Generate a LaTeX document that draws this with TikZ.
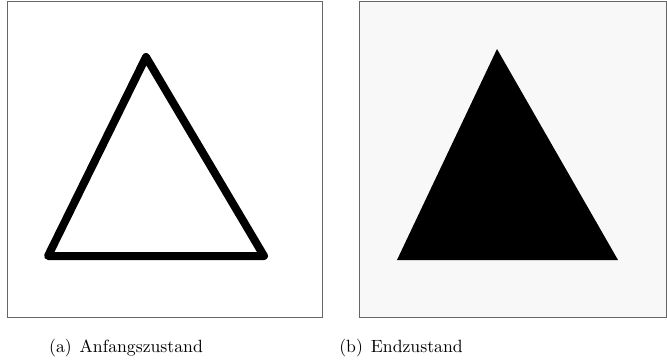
\documentclass[tikz,border=0pt]{standalone}
\usepackage{tikz}
\usetikzlibrary{positioning}
\usepackage{xcolor}
\definecolor{FrameGray}{HTML}{666666}
\definecolor{PaperGray}{HTML}{F8F8F8}

\begin{document}
\begin{tikzpicture}[x=1pt, y=-1pt,
    frame/.style={draw=FrameGray, line width=1pt},
    caption/.style={anchor=base, inner sep=0pt, scale=1.77, font=\normalsize}]

\useasboundingbox (0,0) rectangle (667,361);

% ── (a) Anfangszustand ───────────────────────────────────────────────────────
\draw[frame, fill=white] (7,2) rectangle (322,317);
\coordinate (a top)   at (146,57);
\coordinate (a left)  at (48,256);
\coordinate (a right) at (264,256);
\draw[line width=8pt, line join=round] (a top) -- (a left) -- (a right) -- cycle;
\node[caption] (cap a) at (126,352) {(a)\hspace{4.5pt}Anfangszustand};

% ── (b) Endzustand ───────────────────────────────────────────────────────────
\draw[frame, fill=PaperGray] (359,2) rectangle (666.5,317);
\coordinate (b top)   at (497,49);
\coordinate (b left)  at (397,260);
\coordinate (b right) at (618,260);
\fill[black] (b top) -- (b left) -- (b right) -- cycle;
\node[caption] (cap b) at (401,352) {(b)\hspace{4.5pt}Endzustand};

\end{tikzpicture}
\end{document}
